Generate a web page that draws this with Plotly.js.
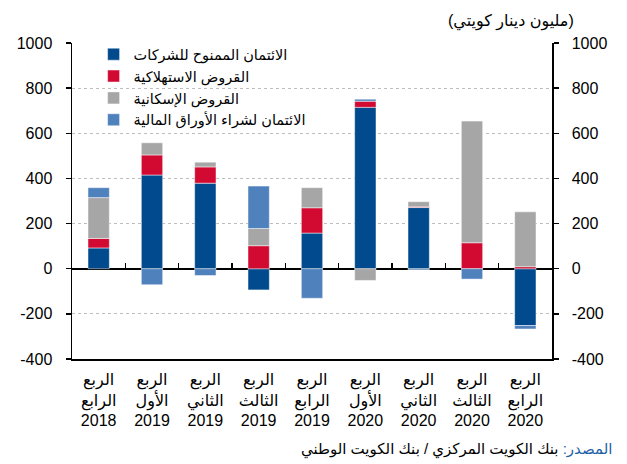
<!DOCTYPE html>
<html>
<head>
<meta charset="utf-8">
<script src="https://cdn.plot.ly/plotly-3.0.1.min.js"></script>
<style>
  html, body { margin: 0; padding: 0; background: #fff; }
  #chart { width: 627px; height: 464px; }
</style>
</head>
<body>
<div id="chart"></div>
<script>
// Categories (quarter, year)
var categories = [
  "الربع<br>الرابع<br>2018",
  "الربع<br>الأول<br>2019",
  "الربع<br>الثاني<br>2019",
  "الربع<br>الثالث<br>2019",
  "الربع<br>الرابع<br>2019",
  "الربع<br>الأول<br>2020",
  "الربع<br>الثاني<br>2020",
  "الربع<br>الثالث<br>2020",
  "الربع<br>الرابع<br>2020"
];

// Series (million KWD)
var corporateCredit   = [92, 415, 379, -94, 158, 715, 271, 0, -252];
var consumerLoans     = [42, 89, 72, 102, 112, 27, 3, 115, 9];
var housingLoans      = [181, 54, 21, 76, 89, -52, 23, 539, 243];
var securitiesCredit  = [44, -71, -30, 188, -131, 9, -5, -46, -15];

var seriesNames = [
  "الائتمان الممنوح للشركات",
  "القروض الاستهلاكية",
  "القروض الإسكانية",
  "الائتمان لشراء الأوراق المالية"
];
var seriesColors = ["#004A8D", "#D20A32", "#A6A6A6", "#4F81BD"];

var yTicks = [-400, -200, 0, 200, 400, 600, 800, 1000];
var yTickText = ["-400", "-200", "0", "200", "400", "600", "800", "1000"];
var unitLabel = "(مليون دينار كويتي)";
var sourceLabel = "المصدر:";
var sourceText = "بنك الكويت المركزي / بنك الكويت الوطني";

var allSeries = [corporateCredit, consumerLoans, housingLoans, securitiesCredit];
var traces = allSeries.map(function (vals, i) {
  return {
    type: "bar",
    name: seriesNames[i],
    x: categories,
    y: vals,
    marker: { color: seriesColors[i], line: { color: "rgba(255,255,255,0.6)", width: 0.8 } },
    hoverinfo: "y+name"
  };
});

// invisible helper traces so the zero-line tick axis (x2) and right axis (y2) are drawn
var idx = categories.map(function (c, i) { return i; });
traces.push({
  type: "scatter", mode: "markers", x: idx, y: corporateCredit,
  xaxis: "x2", yaxis: "y",
  marker: { size: 1, opacity: 0 },
  showlegend: false, hoverinfo: "skip"
});
traces.push({
  type: "scatter", mode: "markers", x: categories, y: corporateCredit,
  xaxis: "x", yaxis: "y2",
  marker: { size: 1, opacity: 0 },
  showlegend: false, hoverinfo: "skip"
});

// boundary ticks between categories on the zero line
var boundaries = [];
for (var i = 0; i < categories.length - 1; i++) boundaries.push(i + 0.5);

var yMin = -400, yMax = 1000;
var zeroFrac = (0 - yMin) / (yMax - yMin);
var font = "Liberation Sans, Arial, DejaVu Sans, sans-serif";

var layout = {
  width: 627, height: 464,
  margin: { l: 72, r: 75, t: 43, b: 105 },
  paper_bgcolor: "#fff", plot_bgcolor: "#fff",
  barmode: "relative",
  bargap: 0.6,
  font: { family: font, color: "#000", size: 14 },
  showlegend: true,
  legend: {
    x: 0.045, y: 1.015, xanchor: "left", yanchor: "top",
    bgcolor: "rgba(255,255,255,0)",
    font: { family: font, size: 14.5, color: "#000" },
    tracegroupgap: 0, itemwidth: 30, traceorder: "normal"
  },
  xaxis: {
    type: "category",
    range: [-0.5, categories.length - 0.5],
    showline: true, linecolor: "#000", linewidth: 1.5, mirror: false,
    ticks: "", showgrid: false, zeroline: false,
    tickfont: { family: font, size: 16, color: "#000" },
    ticklabelstandoff: 5
  },
  xaxis2: {
    overlaying: "x", anchor: "free", position: zeroFrac, side: "bottom",
    type: "linear", range: [-0.5, categories.length - 0.5],
    showline: false, showgrid: false, zeroline: false,
    tickmode: "array", tickvals: boundaries, showticklabels: false,
    ticks: "inside", ticklen: 6, tickwidth: 1.5, tickcolor: "#000"
  },
  yaxis: {
    range: [yMin, yMax],
    tickmode: "array", tickvals: yTicks, ticktext: yTickText,
    showline: true, linecolor: "#000", linewidth: 1.5,
    ticks: "outside", ticklen: 5, tickwidth: 1.5, tickcolor: "#000",
    showgrid: true, gridcolor: "#BDBDBD", griddash: "dot", gridwidth: 1,
    zeroline: true, zerolinecolor: "#000", zerolinewidth: 2,
    tickfont: { family: font, size: 16, color: "#000" },
    ticklabelstandoff: 10
  },
  yaxis2: {
    overlaying: "y", side: "right", anchor: "x",
    range: [yMin, yMax],
    tickmode: "array", tickvals: yTicks, ticktext: yTickText,
    showline: true, linecolor: "#000", linewidth: 1.5,
    ticks: "outside", ticklen: 5, tickwidth: 1.5, tickcolor: "#000",
    showgrid: false, zeroline: false,
    tickfont: { family: font, size: 16, color: "#000" },
    ticklabelstandoff: 10
  },
  annotations: [
    {
      text: unitLabel, xref: "paper", yref: "paper",
      x: 1.05, y: 1.0, xanchor: "right", yanchor: "bottom", yshift: 10,
      showarrow: false, font: { family: font, size: 16, color: "#000" }
    },
    {
      text: "<span style='color:#1F5FA6'>" + sourceLabel + "</span> " + sourceText,
      xref: "paper", yref: "paper",
      x: 1.13, y: 0, xanchor: "right", yanchor: "top", yshift: -79,
      showarrow: false, font: { family: font, size: 15, color: "#000" }
    }
  ]
};

Plotly.newPlot("chart", traces, layout, { displayModeBar: false, staticPlot: true });
</script>
</body>
</html>
